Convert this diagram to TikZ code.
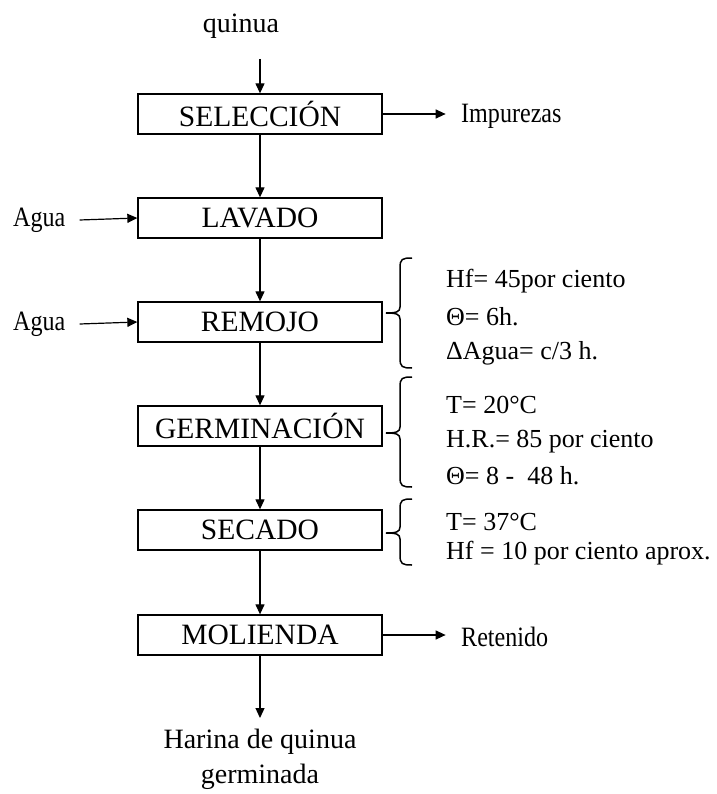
\documentclass[tikz,border=0pt]{standalone}
\usepackage{fontspec}
\setmainfont{Liberation Serif}
\usetikzlibrary{arrows.meta}
\tikzset{
  proc/.style={draw, line width=1.3pt, minimum width=244pt, minimum height=40pt, inner sep=0pt, font=\fontsize{29.5}{31}\selectfont},
  flow/.style={line width=1.2pt, -{Triangle[length=10pt,width=9pt]}},
  side/.style={inner sep=0pt, font=\fontsize{28}{30}\selectfont},
  endtxt/.style={inner sep=0pt, font=\fontsize{28}{30}\selectfont},
  note/.style={anchor=west, inner sep=0pt, font=\fontsize{26}{28}\selectfont},
  bracepath/.style={line width=1.5pt}
}
\newcommand\sidebrace[3]{%
  \draw[bracepath] (412,#1) .. controls (402,#1) and (400,{#1+1}) .. (400,{#1+10})
    -- (400,{#3-6}) .. controls (400,{#3-1}) and (396,#3) .. (386,#3)
    .. controls (396,#3) and (400,{#3+1}) .. (400,{#3+6})
    -- (400,{#2-10}) .. controls (400,{#2-1}) and (402,#2) .. (412,#2);}
\newcommand\narrow[1]{\scalebox{0.86}[1]{#1}}
\begin{document}
\begin{tikzpicture}[x=1pt,y=-1pt]
\useasboundingbox (0,0) rectangle (716,794);

% top input
\node[endtxt] (quinua) at (241,26) {quinua};
\coordinate (qstart) at (260,59);

% process boxes
\node[proc] (sel) at (260,114) {SELECCIÓN};
\node[proc] (lav) at (260,218) {LAVADO};
\node[proc] (rem) at (260,322) {REMOJO};
\node[proc] (ger) at (260,426) {GERMINACIÓN};
\node[proc] (sec) at (260,530) {SECADO};
\node[proc] (mol) at (260,635) {MOLIENDA};

% output
\node[endtxt, align=center] (harina) at (260,759) {Harina de quinua\\[5pt]germinada};
\coordinate (hend) at (260,718);

% side labels
\node[side, anchor=west] (imp) at (461,116) {\narrow{Impurezas}};
\node[side, anchor=west] (ret) at (461,637) {\narrow{Retenido}};
\node[side, anchor=west] (agua1) at (13,220) {\narrow{Agua}};
\node[side, anchor=west] (agua2) at (13,324) {\narrow{Agua}};

% main flow
\draw[flow] (qstart) -- (sel.north);
\draw[flow] (sel) -- (lav);
\draw[flow] (lav) -- (rem);
\draw[flow] (rem) -- (ger);
\draw[flow] (ger) -- (sec);
\draw[flow] (sec) -- (mol);
\draw[flow] (mol.south) -- (hend);

% side flows
\draw[flow] (sel.east) -- ++(63,0) coordinate (impa);
\draw[flow] (mol.east) -- ++(63,0) coordinate (reta);
\draw[flow] (agua1.east) ++(14,0) coordinate (a1) -- (lav.west);
\draw[flow] (agua2.east) ++(14,0) coordinate (a2) -- (rem.west);

% braces
\sidebrace{258}{368}{313}
\sidebrace{377}{487}{433}
\sidebrace{499}{565}{533}

% notes
\node[note] (n1) at (446,281) {Hf= 45por ciento};
\node[note] (n2) at (446,317) {Θ= 6h.};
\node[note] (n3) at (446,353) {ΔAgua= c/3 h.};
\node[note] (n4) at (446,405) {T= 20°C};
\node[note] (n5) at (446,442) {H.R.= 85 por ciento};
\node[note] (n6) at (446,476) {Θ= 8 -~ 48 h.};
\node[note] (n7) at (446,522) {T= 37°C};
\node[note] (n8) at (446,553) {Hf = 10 por ciento aprox.};
\end{tikzpicture}
\end{document}
